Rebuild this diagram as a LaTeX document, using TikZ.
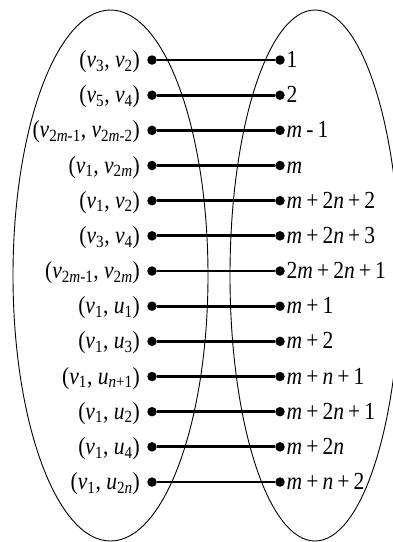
\documentclass[tikz,border=0pt]{standalone}
\usepackage{fontspec}
\setmainfont{Liberation Serif}[FakeStretch=0.88]
\usetikzlibrary{positioning}

\newcommand{\vx}[1]{\textit{v}\textsubscript{#1}}
\newcommand{\ux}[1]{\textit{u}\textsubscript{#1}}
\newcommand{\emm}{\textit{m}}
\newcommand{\enn}{\textit{n}}

\begin{document}
\begin{tikzpicture}[x=1pt, y=-1pt, font=\fontsize{24.5}{28}\selectfont,
  dot/.style={circle, fill, inner sep=0pt, minimum size=9.5pt},
  link/.style={line width=2.8pt},
  lab/.style={inner sep=0pt}]
\useasboundingbox (0,0) rectangle (393,542);
% the two sets
\draw[line width=0.9pt] (110.5,275.5) ellipse [x radius=97.5pt, y radius=265.5pt];
\draw[line width=0.9pt] (315,275.5) ellipse [x radius=85pt, y radius=265.5pt];
% one row per edge
\foreach \i/\a/\b in {
  1/{(\vx{3}, \vx{2})}/{1},
  2/{(\vx{5}, \vx{4})}/{2},
  3/{(\vx{2\emm-1}, \vx{2\emm-2})}/{\emm\,-\,1},
  4/{(\vx{1}, \vx{2\emm})}/{\emm},
  5/{(\vx{1}, \vx{2})}/{\emm\,+\,2\enn\,+\,2},
  6/{(\vx{3}, \vx{4})}/{\emm\,+\,2\enn\,+\,3},
  7/{(\vx{2\emm-1}, \vx{2\emm})}/{2\emm\,+\,2\enn\,+\,1},
  8/{(\vx{1}, \ux{1})}/{\emm\,+\,1},
  9/{(\vx{1}, \ux{3})}/{\emm\,+\,2},
  10/{(\vx{1}, \ux{\enn+1})}/{\emm\,+\,\enn\,+\,1},
  11/{(\vx{1}, \ux{2})}/{\emm\,+\,2\enn\,+\,1},
  12/{(\vx{1}, \ux{4})}/{\emm\,+\,2\enn},
  13/{(\vx{1}, \ux{2\enn})}/{\emm\,+\,\enn\,+\,2}} {
  \node[dot] (l\i) at (152, 24.83+35.17*\i) {};
  \node[dot] (r\i) at (280, 24.83+35.17*\i) {};
  \draw[link] (l\i) -- (r\i);
  \node[lab, anchor=base east] (a\i) at ([xshift=-7pt, yshift=-7.5pt]l\i.west) {\a};
  \node[lab, anchor=base west] (b\i) at ([xshift=1.5pt, yshift=-7.5pt]r\i.east) {\b};
}
\end{tikzpicture}
\end{document}
